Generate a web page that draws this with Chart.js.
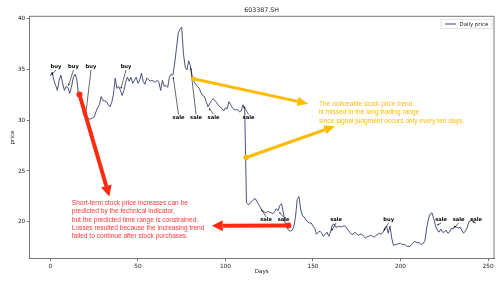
<!DOCTYPE html>
<html>
<head>
<meta charset="utf-8">
<script src="https://cdn.jsdelivr.net/npm/chart.js@4"></script>
<style>
  html, body { margin: 0; padding: 0; background: #fff; }
  canvas { display: block; }
</style>
</head>
<body>
<canvas id="chart" width="504" height="282"></canvas>
<script>
// daily close, day 0 .. 241
const prices = [
  34.3, 34.7, 33.9, 33.4, 32.9, 33.9, 34.4, 33.6, 32.9, 33.3,
  33.2, 32.6, 33.2, 34.1, 34.5, 34.1, 32.6, 32.3, 31.9, 30.5,
  30.3, 30.2, 30.1, 30.1, 30.2, 30.3, 30.8, 31.2, 31.5, 32.3,
  31.9, 31.9, 31.8, 31.5, 31.3, 31.7, 32.5, 34.1, 33.1, 33.3,
  32.9, 32.4, 32.9, 33.7, 34.2, 33.8, 34.2, 33.6, 33.9, 34.2,
  33.6, 33.9, 34.6, 33.8, 33.5, 34.1, 34.0, 33.8, 33.9, 33.8,
  33.7, 33.9, 33.7, 32.9, 33.9, 33.3, 33.4, 33.2, 34.2, 34.5,
  34.4, 35.6, 37.0, 38.5, 38.9, 39.1, 36.5, 35.2, 34.9, 35.8,
  35.3, 34.3, 33.8, 33.5, 33.3, 33.1, 32.7, 32.4, 32.3, 31.8,
  31.3, 31.6, 31.9, 32.1, 31.9, 31.7, 31.4, 31.3, 31.1, 30.9,
  31.2, 31.1, 31.8, 31.5, 31.2, 31.0, 31.0, 31.0, 30.8, 30.9,
  31.5, 31.0, 21.9, 21.7, 21.8, 22.0, 22.2, 22.3, 22.0, 21.7,
  21.4, 21.1, 21.0, 20.9, 21.0, 21.0, 20.9, 20.8, 21.0, 21.3,
  21.1, 21.6, 21.8, 21.0, 20.0, 19.5, 19.2, 19.1, 19.2, 19.5,
  20.5, 22.2, 22.5, 21.2, 20.6, 20.5, 20.2, 20.0, 19.9, 19.9,
  19.6, 19.4, 18.8, 19.0, 19.1, 18.9, 18.6, 18.8, 19.0, 18.6,
  19.0, 19.7, 19.8, 19.5, 19.5, 19.6, 19.5, 19.6, 19.6, 19.5,
  19.2, 19.0, 18.8, 18.8, 19.0, 18.8, 18.7, 18.8, 18.8, 18.6,
  18.4, 18.6, 18.6, 18.7, 18.6, 18.5, 18.7, 18.8, 18.9, 18.8,
  19.0, 19.4, 19.6, 18.9, 19.6, 18.4, 17.7, 17.8, 17.8, 17.9,
  17.9, 17.8, 17.8, 17.7, 17.6, 17.6, 17.7, 17.9, 18.1, 18.0,
  18.0, 17.9, 17.8, 17.9, 18.2, 19.5, 20.3, 20.8, 20.9, 20.3,
  19.6, 19.2, 19.0, 19.3, 19.0, 19.0, 19.2, 18.9, 19.0, 19.4,
  19.3, 19.6, 19.5, 19.4, 19.5, 19.2, 18.9, 19.1, 19.4, 20.0,
  20.1, 20.2
];
const days = prices.map((p, i) => i);

// trading signals (checked every ten days)
const buyDays = [0, 10, 20, 40, 190];
const buyLabelY = [35.2, 35.2, 35.2, 35.2, 20.2];
const saleDays = [70, 80, 90, 110, 120, 130, 160, 220, 230, 240];
const saleLabelY = [30.25, 30.25, 30.25, 30.25, 20.2, 20.2, 20.2, 20.2, 20.2, 20.2];

const xTicks = [0, 50, 100, 150, 200, 250];
const yTicks = [20, 25, 30, 35, 40];

const redNote = [
  "Short-term stock price increases can be",
  "predicted by the technical indicator,",
  "but the predicted time range is constrained.",
  "Losses resulted because the increasing trend",
  "failed to continue after stock purchases."
];
const yellowNote = [
  "The noticeable stock price trend",
  "is missed in the long trading range",
  "since signal judgment occurs only every ten days."
];

const RED = "#ff2a10";
const RED_TEXT = "#ff3838";
const YELLOW = "#ffbb00";
const LINE = "#35406f";
const AXIS = "#555";

function arrow(ctx, x1, y1, x2, y2, w, headLen, headW, color) {
  const dx = x2 - x1, dy = y2 - y1;
  const len = Math.hypot(dx, dy);
  const ux = dx / len, uy = dy / len;
  const bx = x2 - ux * headLen, by = y2 - uy * headLen;
  ctx.save();
  ctx.strokeStyle = color;
  ctx.fillStyle = color;
  ctx.lineWidth = w;
  ctx.beginPath();
  ctx.moveTo(x1, y1);
  ctx.lineTo(bx, by);
  ctx.stroke();
  ctx.beginPath();
  ctx.moveTo(x2, y2);
  ctx.lineTo(bx - uy * headW / 2, by + ux * headW / 2);
  ctx.lineTo(bx + uy * headW / 2, by - ux * headW / 2);
  ctx.closePath();
  ctx.fill();
  ctx.restore();
}

function dot(ctx, x, y, r, color) {
  ctx.fillStyle = color;
  ctx.beginPath();
  ctx.arc(x, y, r, 0, Math.PI * 2);
  ctx.fill();
}

const decorations = {
  id: "decorations",
  beforeDraw(chart) {
    const ctx = chart.ctx;
    ctx.save();
    ctx.fillStyle = "#fff";
    ctx.fillRect(0, 0, chart.width, chart.height);
    ctx.restore();
  },
  afterDatasetsDraw(chart) {
    const ctx = chart.ctx;
    const xs = chart.scales.x, ys = chart.scales.y;
    const px = v => xs.getPixelForValue(v);
    const py = v => ys.getPixelForValue(v);
    const area = chart.chartArea;

    ctx.save();
    // top / right spines
    ctx.strokeStyle = AXIS;
    ctx.lineWidth = 0.8;
    ctx.beginPath();
    ctx.moveTo(area.left, area.top);
    ctx.lineTo(area.right, area.top);
    ctx.lineTo(area.right, area.bottom);
    ctx.stroke();

    // title, axis titles
    ctx.fillStyle = "#222";
    ctx.textAlign = "center";
    ctx.textBaseline = "middle";
    ctx.font = "6.3px 'DejaVu Sans'";
    ctx.fillText("603387.SH", (area.left + area.right) / 2, 10.5);
    ctx.font = "5.6px 'DejaVu Sans'";
    ctx.fillText("Days", (area.left + area.right) / 2, 272);
    ctx.save();
    ctx.translate(13, (area.top + area.bottom) / 2);
    ctx.rotate(-Math.PI / 2);
    ctx.fillText("price", 0, 0);
    ctx.restore();

    // legend
    ctx.strokeStyle = "#ddd";
    ctx.lineWidth = 0.8;
    ctx.strokeRect(441, 19.3, 51, 9.4);
    ctx.strokeStyle = LINE;
    ctx.lineWidth = 1;
    ctx.beginPath();
    ctx.moveTo(445, 24);
    ctx.lineTo(456, 24);
    ctx.stroke();
    ctx.fillStyle = "#222";
    ctx.textAlign = "left";
    ctx.font = "5.4px 'DejaVu Sans'";
    ctx.fillText("Daily price", 459.5, 24.2);

    // buy / sale labels with thin arrows
    ctx.font = "bold 5.2px 'DejaVu Sans'";
    ctx.textAlign = "center";
    const label = (txt, day, ly) => {
      const tx = px(day + 3.2), ty = py(ly);
      ctx.fillStyle = "#000";
      ctx.fillText(txt, tx, ty);
      const tgx = px(day), tgy = py(prices[day]);
      const sy = tgy < ty ? ty - 3 : ty + 3;
      const dx = tgx - tx, dy = tgy - sy;
      const len = Math.hypot(dx, dy);
      const ex = tgx - dx / len * 1.5, ey = tgy - dy / len * 1.5;
      arrow(ctx, tx, sy, ex, ey, 0.6, 2.2, 1.8, "#000");
    };
    buyDays.forEach((d, i) => label("buy", d, buyLabelY[i]));
    saleDays.forEach((d, i) => label("sale", d, saleLabelY[i]));

    // red arrows
    dot(ctx, px(16.6), py(32.5), 3, RED);
    arrow(ctx, px(16.6), py(32.5), px(33.7), py(22.5), 4, 11, 11, RED);
    dot(ctx, px(136), py(19.66), 3, RED);
    arrow(ctx, px(136), py(19.66), px(92.2), py(19.62), 4, 11, 11, RED);

    // yellow arrows
    dot(ctx, px(81.6), py(34.05), 2.3, YELLOW);
    arrow(ctx, px(81.6), py(34.05), px(147.3), py(31.6), 3, 11, 9, YELLOW);
    dot(ctx, px(111.8), py(26.32), 2.8, YELLOW);
    arrow(ctx, px(111.8), py(26.32), px(162.7), py(29.4), 3, 11, 9, YELLOW);

    // notes
    ctx.textAlign = "left";
    ctx.font = "6.6px 'Liberation Sans'";
    ctx.fillStyle = RED_TEXT;
    redNote.forEach((t, i) => ctx.fillText(t, px(12.2), py(21.87) + i * 8.4));
    ctx.fillStyle = YELLOW;
    yellowNote.forEach((t, i) => ctx.fillText(t, px(153.4), py(31.53) + i * 8.2));
    ctx.restore();
  }
};

new Chart(document.getElementById("chart"), {
  type: "line",
  data: {
    datasets: [{
      label: "Daily price",
      data: prices.map((p, i) => ({ x: days[i], y: p })),
      borderColor: LINE,
      borderWidth: 0.9,
      pointRadius: 0,
      tension: 0,
      fill: false
    }]
  },
  options: {
    responsive: false,
    animation: false,
    devicePixelRatio: 1,
    layout: { padding: { top: 16.3, right: 10, left: 0, bottom: 0 } },
    plugins: { legend: { display: false }, title: { display: false }, tooltip: { enabled: false } },
    scales: {
      x: {
        type: "linear",
        min: -12.05,
        max: 253.4,
        afterBuildTicks: s => { s.ticks = xTicks.map(v => ({ value: v })); },
        afterFit: s => { s.height = 23.3; },
        grid: { display: true, drawOnChartArea: false, drawTicks: true, tickLength: 2.5, tickColor: AXIS, tickWidth: 0.8 },
        border: { display: true, color: AXIS, width: 0.8 },
        ticks: { font: { family: "DejaVu Sans", size: 5.8 }, color: "#222", padding: 1.5, maxRotation: 0, autoSkip: false }
      },
      y: {
        min: 16.4,
        max: 40.17,
        afterBuildTicks: s => { s.ticks = yTicks.map(v => ({ value: v })); },
        afterFit: s => { s.width = 29.3; },
        grid: { display: true, drawOnChartArea: false, drawTicks: true, tickLength: 2.5, tickColor: AXIS, tickWidth: 0.8 },
        border: { display: true, color: AXIS, width: 0.8 },
        ticks: { font: { family: "DejaVu Sans", size: 5.8 }, color: "#222", padding: 1.5, autoSkip: false }
      }
    }
  },
  plugins: [decorations]
});
</script>
</body>
</html>
